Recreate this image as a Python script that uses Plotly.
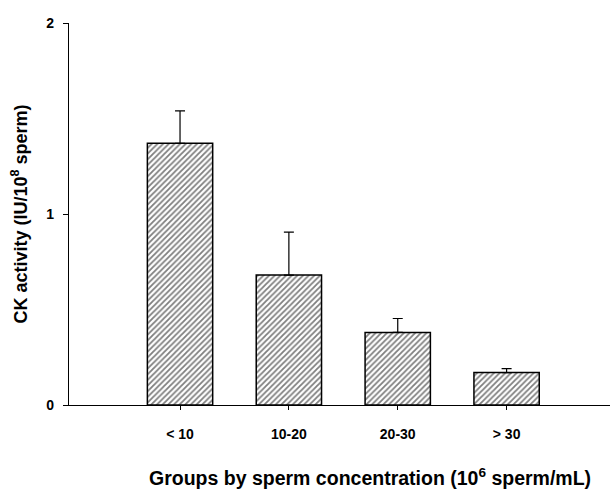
import plotly.graph_objects as go

cat_labels = ["< 10", "10-20", "20-30", "> 30"]
means = [1.37, 0.68, 0.38, 0.17]
sem_up = [0.17, 0.225, 0.073, 0.02]
x_pos = [0, 1, 2, 3]
x_title = "Groups by sperm concentration (10<sup>6</sup> sperm/mL)"
y_title = "CK activity (IU/10<sup>8</sup> sperm)"

font_fam = "Liberation Sans, Arial, sans-serif"

fig = go.Figure()
fig.add_trace(go.Bar(
    x=x_pos, y=means, width=0.6,
    marker=dict(color="white",
                line=dict(color="black", width=1.5),
                pattern=dict(shape="/", fgcolor="black", bgcolor="white", size=4, solidity=0.45)),
    error_y=dict(type="data", array=sem_up, arrayminus=[0]*4, symmetric=False,
                 color="black", thickness=1.2, width=5),
    showlegend=False,
))

fig.update_layout(
    width=610, height=489,
    margin=dict(l=69, r=0, t=23, b=84),
    plot_bgcolor="white", paper_bgcolor="white",
    font=dict(family=font_fam, color="black"),
    xaxis=dict(
        range=[-1.02, 3.95], tickmode="array", tickvals=x_pos, ticktext=cat_labels,
        showline=True, linecolor="black", linewidth=1.2,
        ticks="outside", ticklen=4, tickcolor="black", tickwidth=1,
        showgrid=False, zeroline=False,
        tickfont=dict(size=14, weight="bold"), ticklabelstandoff=12,
    ),
    yaxis=dict(
        range=[0, 2], tickvals=[0, 1, 2], ticktext=["0", "1", "2"],
        showline=True, linecolor="black", linewidth=1.2,
        ticks="outside", ticklen=5, tickcolor="black", tickwidth=1,
        showgrid=False, zeroline=False,
        tickfont=dict(size=14, weight="bold"), ticklabelstandoff=6,
        title=dict(text=y_title, font=dict(size=18, weight="bold"), standoff=14),
    ),
    annotations=[dict(
        text=x_title, xref="paper", yref="paper", x=0.557, y=-0.188,
        xanchor="center", yanchor="middle", showarrow=False,
        font=dict(size=19.5, weight="bold"),
    )],
)

fig.write_html("out.html")
